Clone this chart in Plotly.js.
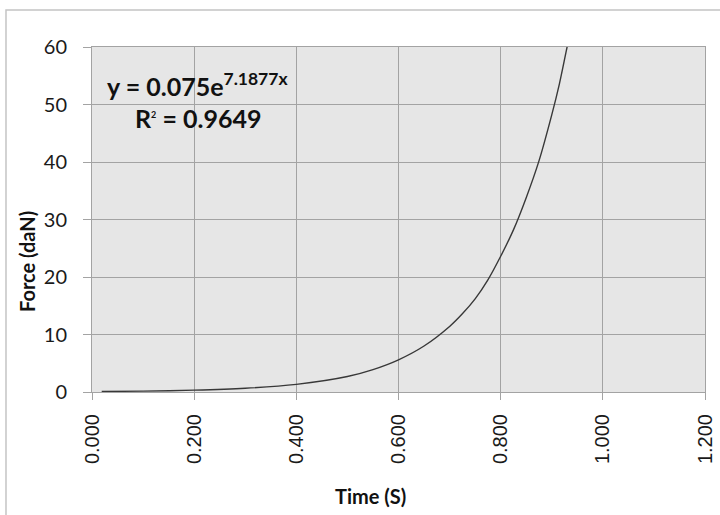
<!DOCTYPE html>
<html>
<head>
<meta charset="utf-8">
<script src="https://cdn.plot.ly/plotly-3.0.1.min.js"></script>
<style>
  html, body { margin: 0; padding: 0; background: #ffffff; }
  #chart { width: 720px; height: 515px; }
</style>
</head>
<body>
<div id="chart"></div>
<script>
// Measured force over time (exponential rise)
const timeS = [0.019, 0.10, 0.20, 0.30, 0.40, 0.50, 0.55, 0.60, 0.65, 0.70, 0.725, 0.75, 0.775, 0.80, 0.825, 0.85, 0.875, 0.90, 0.915, 0.93, 0.935];
const forceDaN = [0.09, 0.15, 0.32, 0.65, 1.33, 2.7, 3.9, 5.6, 8.0, 11.4, 13.6, 16.2, 19.5, 23.6, 28.2, 33.8, 40.2, 48.2, 53.6, 60.0, 62.2];

// Axis ticks
const xTickVals = [0, 0.2, 0.4, 0.6, 0.8, 1.0, 1.2];
const xTickText = ["0.000", "0.200", "0.400", "0.600", "0.800", "1.000", "1.200"];
const yTickVals = [0, 10, 20, 30, 40, 50, 60];

// Trendline labels
const fitEquation = "y = 0.075e<sup>7.1877x</sup>";
const fitR2 = "R<sup><span style=\"font-size:9px\">2</span></sup> = 0.9649";
const xTitle = "Time (S)";
const yTitle = "Force (daN)";

const gridGray = "#a3a3a3";
const labelFont = "Lato, 'Open Sans', sans-serif";

const trace = {
  x: timeS,
  y: forceDaN,
  type: "scatter",
  mode: "lines",
  line: { color: "#383838", width: 1.4, shape: "spline", smoothing: 0.8 },
  hoverinfo: "x+y"
};

const layout = {
  width: 720,
  height: 515,
  margin: { l: 92, r: 15, t: 47, b: 123 },
  paper_bgcolor: "#ffffff",
  plot_bgcolor: "#e6e6e6",
  showlegend: false,
  xaxis: {
    range: [0, 1.2],
    tickvals: xTickVals,
    ticktext: xTickText,
    tickangle: -90,
    tickfont: { family: "'Liberation Sans', Arial, sans-serif", size: 20, color: "#1a1a1a" },
    ticks: "outside",
    ticklen: 7,
    tickcolor: gridGray,
    ticklabelstandoff: 6,
    showgrid: true,
    gridcolor: gridGray,
    gridwidth: 1,
    showline: true,
    linecolor: gridGray,
    linewidth: 1,
    mirror: true,
    zeroline: false,
    fixedrange: true
  },
  yaxis: {
    range: [0, 60],
    tickvals: yTickVals,
    tickfont: { family: labelFont, size: 20, color: "#1a1a1a" },
    ticks: "outside",
    ticklen: 8,
    tickcolor: gridGray,
    ticklabelstandoff: 12,
    showgrid: true,
    gridcolor: gridGray,
    gridwidth: 1,
    showline: true,
    linecolor: gridGray,
    linewidth: 1,
    mirror: true,
    zeroline: false,
    fixedrange: true
  },
  shapes: [
    {
      type: "rect",
      xref: "paper", yref: "paper",
      x0: -0.1403, x1: 1.04,
      y0: -0.38, y1: 1.1072,
      line: { color: "#c4c4c4", width: 1.5 },
      fillcolor: "rgba(0,0,0,0)",
      layer: "below"
    }
  ],
  annotations: [
    {
      text: fitEquation,
      xref: "paper", yref: "paper",
      x: (105 - 92) / 613, y: (392 - 85) / 345,
      xanchor: "left", yanchor: "middle",
      showarrow: false,
      font: { family: labelFont, size: 25, color: "#111111", weight: "bold" }
    },
    {
      text: fitR2,
      xref: "paper", yref: "paper",
      x: (133 - 92) / 613, y: (392 - 118) / 345,
      xanchor: "left", yanchor: "middle",
      showarrow: false,
      font: { family: labelFont, size: 25, color: "#111111", weight: "bold" }
    },
    {
      text: xTitle,
      xref: "paper", yref: "paper",
      x: (370 - 92) / 613, y: (392 - 496) / 345,
      xanchor: "center", yanchor: "middle",
      showarrow: false,
      font: { family: labelFont, size: 20, color: "#111111", weight: "bold" }
    },
    {
      text: yTitle,
      xref: "paper", yref: "paper",
      x: (27 - 92) / 613, y: (392 - 262) / 345,
      xanchor: "center", yanchor: "middle",
      textangle: -90,
      showarrow: false,
      font: { family: labelFont, size: 20, color: "#111111", weight: "bold" }
    }
  ]
};

Plotly.newPlot("chart", [trace], layout, { displayModeBar: false, staticPlot: true });
</script>
</body>
</html>
